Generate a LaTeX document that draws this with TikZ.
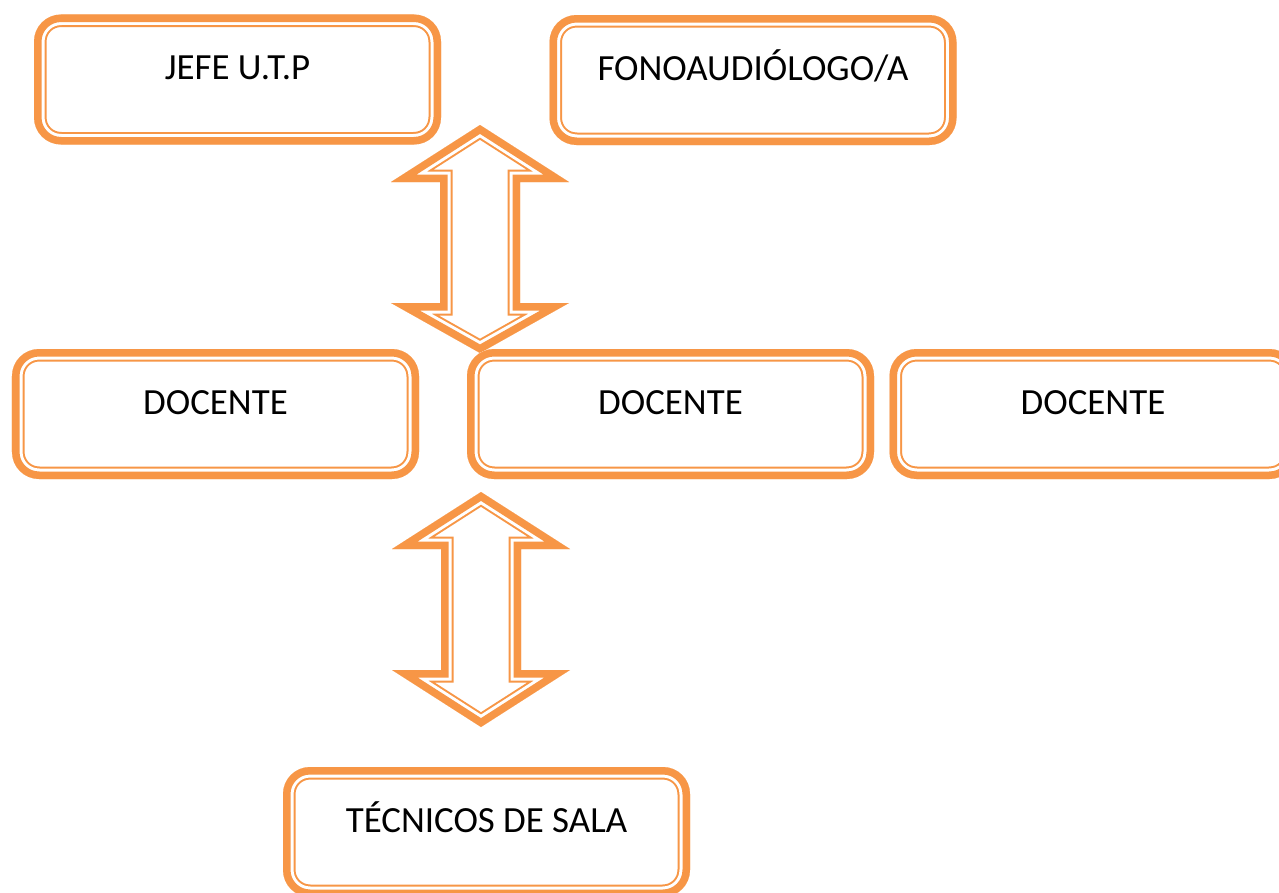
\documentclass[tikz,border=0pt]{standalone}
\usepackage{fontspec}
\setmainfont{Carlito}
\definecolor{orangeline}{HTML}{F79646}
\pgfdeclarelayer{bg}
\pgfsetlayers{bg,main}

% thick-thin outline, drawn on the inner side of the path
\newcommand{\compound}[2]{
	\begin{scope}[#1]
		\clip #2;
		\fill[white] #2;
		\draw[orangeline,line width=0.5cm] #2;
		\draw[white,line width=0.42cm] #2;
		\draw[orangeline,line width=0.3cm] #2;
	\end{scope}
}
% up-down block arrow: x, top tip, top wings, bottom wings, bottom tip
\newcommand{\arrowpath}[5]{
	(#1,#2) -- ({#1+1.78},#3) -- ({#1+0.8},#3) -- ({#1+0.8},#4) -- ({#1+1.78},#4)
	-- (#1,#5) -- ({#1-1.78},#4) -- ({#1-0.8},#4) -- ({#1-0.8},#3) -- ({#1-1.78},#3) -- cycle
}

\begin{document}
\begin{tikzpicture}
	\tikzset{box/.style={minimum width=8.14cm, minimum height=2.6cm, inner sep=0pt, outer sep=0pt,
			font=\fontsize{21}{25}\selectfont, text height=0.6cm, text depth=0.6cm}}
	\useasboundingbox (0,0) rectangle (25.58,-17.84);
	
	\node[box] (jefe) at (4.75,-1.59) {JEFE U.T.P};
	\node[box] (fono) at (15.06,-1.6) {FONOAUDIÓLOGO/A};
	\node[box] (doc1) at (4.31,-8.28) {DOCENTE};
	\node[box] (doc2) at (13.41,-8.28) {DOCENTE};
	\node[box] (doc3) at (21.86,-8.28) {DOCENTE};
	\node[box] (tec) at (9.73,-16.64) {TÉCNICOS DE SALA};
	
	\begin{pgfonlayer}{bg}
		\clip (0,0) rectangle (25.58,-17.84);
		\compound{line join=miter}{\arrowpath{9.6}{-2.5}{-3.64}{-6.06}{-7.06}}
		\compound{line join=miter}{\arrowpath{9.62}{-9.84}{-10.98}{-13.4}{-14.54}}
		\foreach \n in {jefe,fono,doc1,doc2,doc3,tec} {
			\compound{rounded corners=0.54cm}{(\n.south west) rectangle (\n.north east)}
		}
	\end{pgfonlayer}
\end{tikzpicture}
\end{document}
